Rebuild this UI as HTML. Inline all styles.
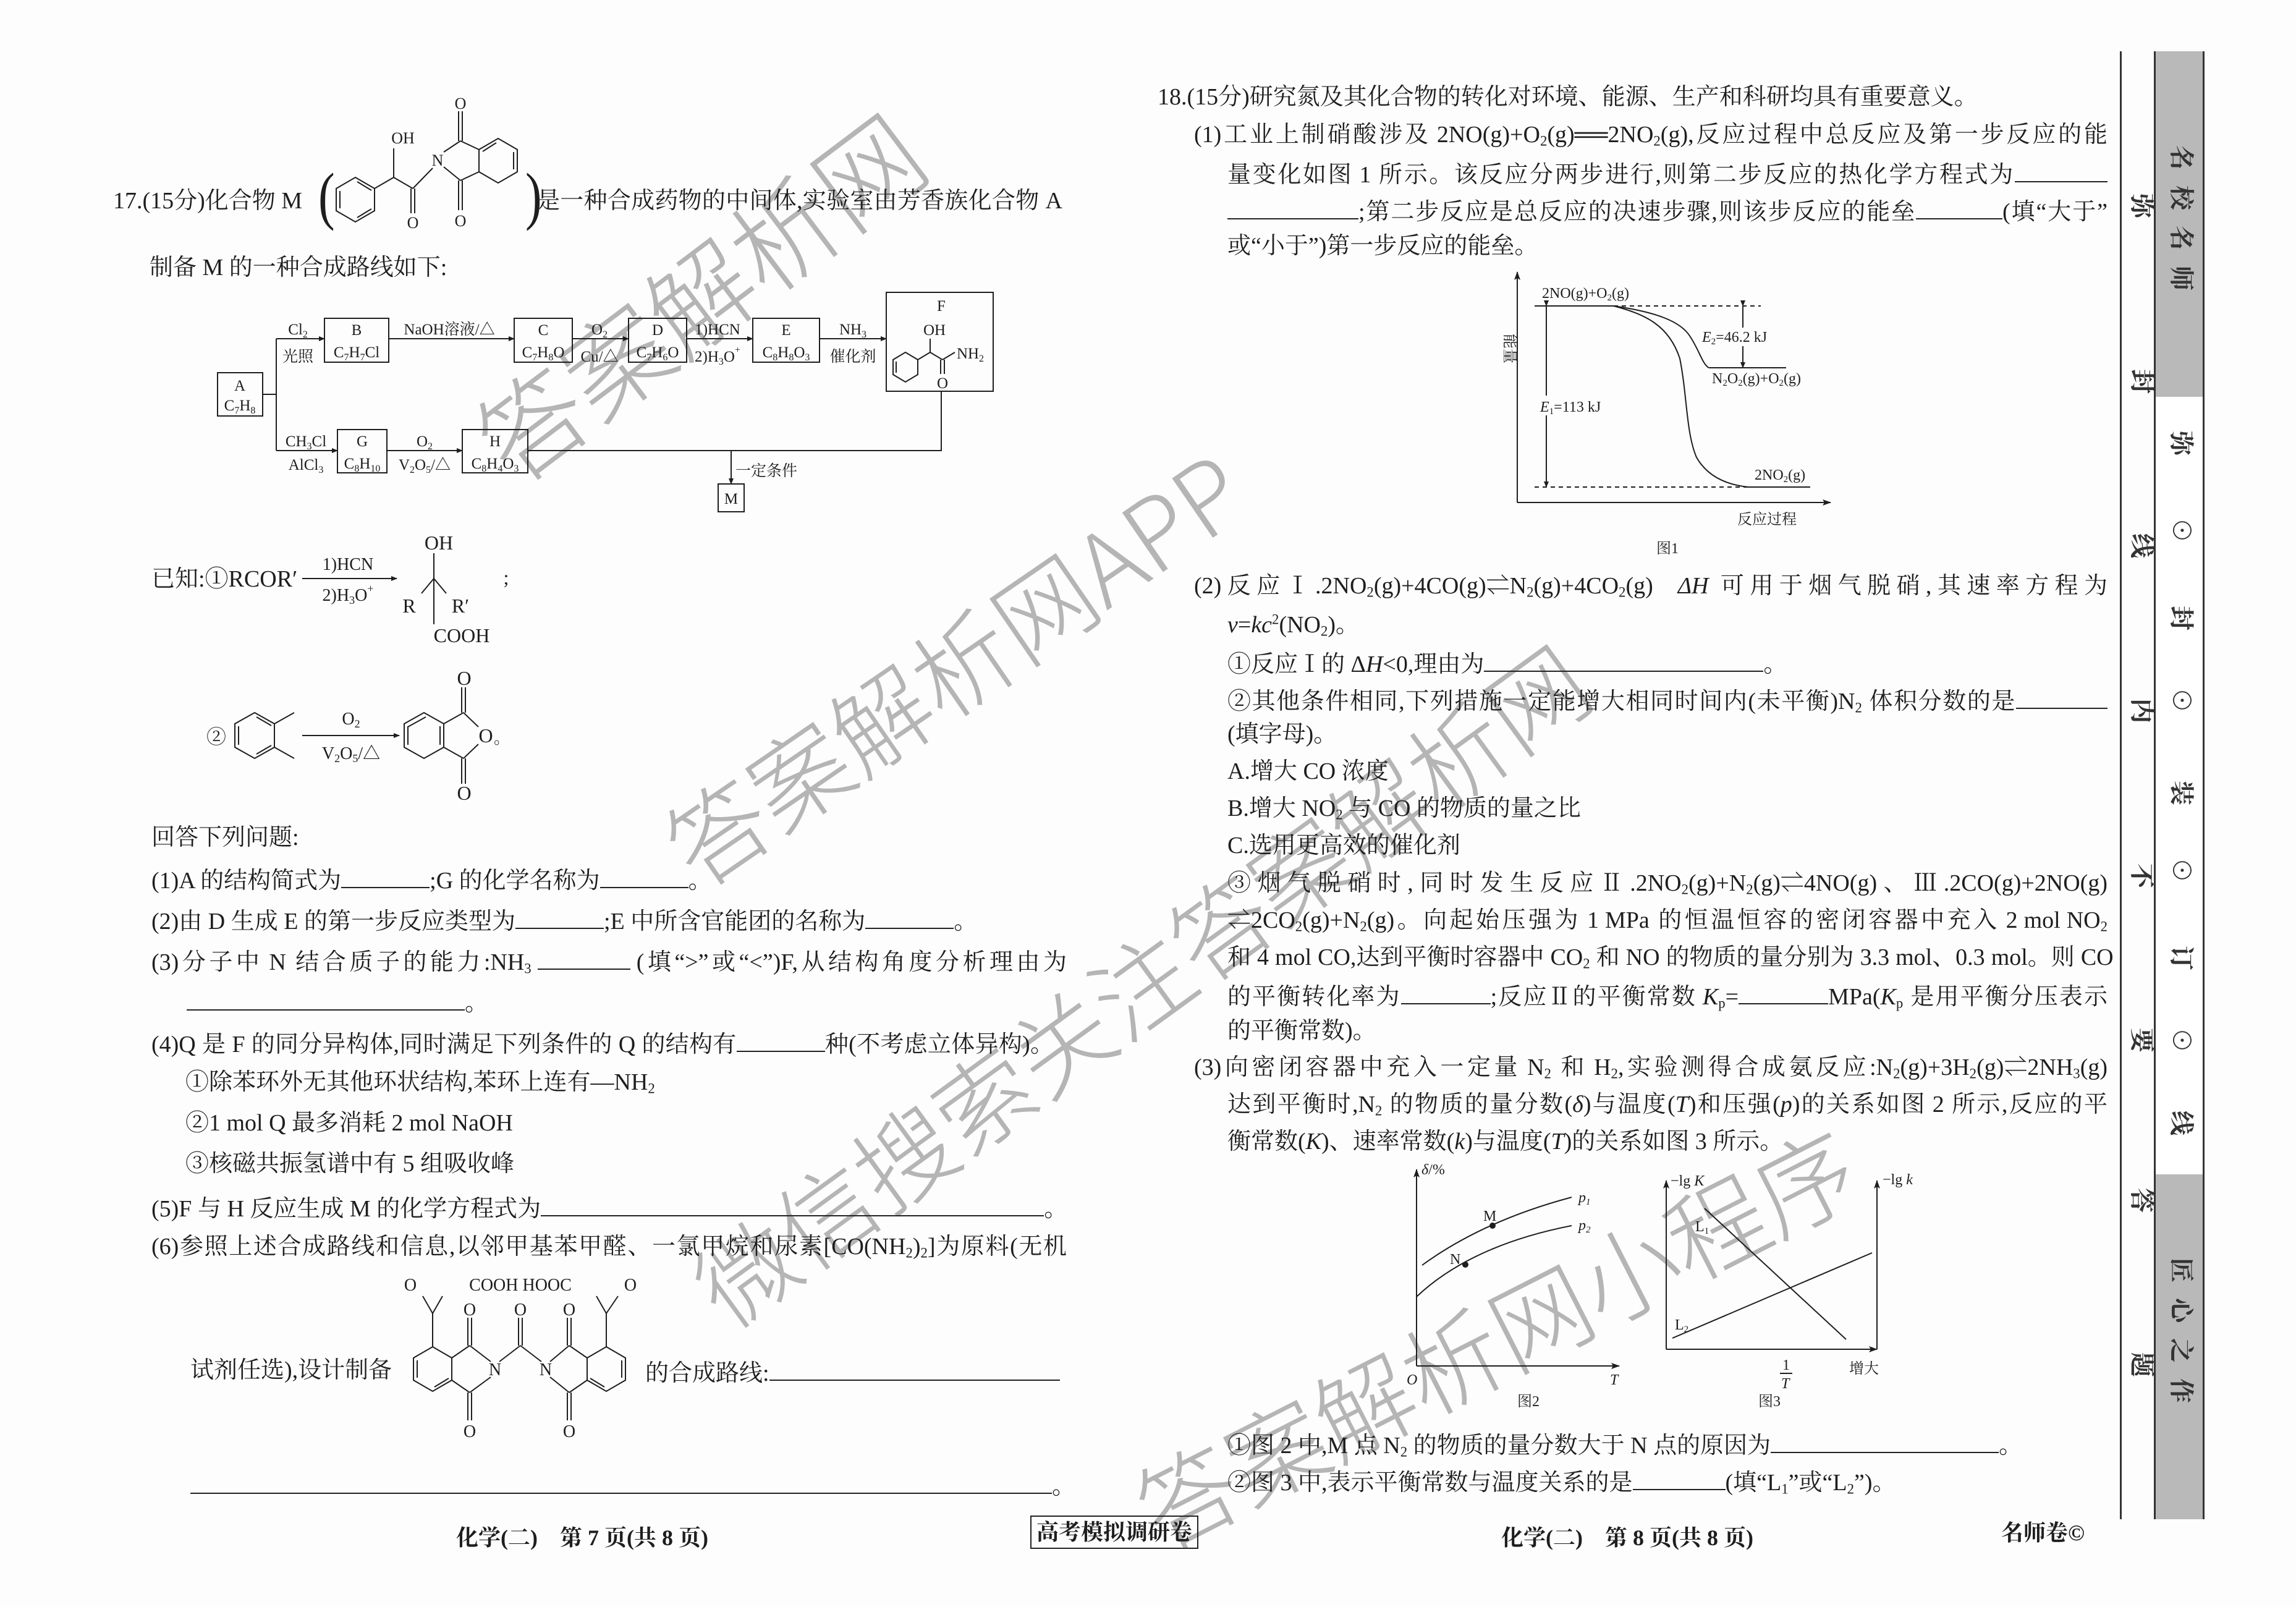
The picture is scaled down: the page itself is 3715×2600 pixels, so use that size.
<!DOCTYPE html>
<html><head><meta charset="utf-8">
<style>
html,body{margin:0;padding:0;background:#fff;}
#p{position:relative;width:3715px;height:2600px;overflow:hidden;background:#fdfdfd;color:#1e1e1e;font-family:"Liberation Serif","Noto Serif CJK SC",serif;}
.t{position:absolute;font-size:38px;line-height:38px;white-space:nowrap;}
.j{text-align:justify;text-align-last:justify;}
.s{display:inline-block;width:10px;}
sub{font-size:.6em;vertical-align:-.25em;line-height:0;}
sup{font-size:.6em;vertical-align:.6em;line-height:0;}
.u{display:inline-block;border-bottom:2px solid #222;height:34px;vertical-align:baseline;}
.wm{position:absolute;transform-origin:center;white-space:nowrap;color:rgba(110,110,110,.5);font-family:"Noto Sans CJK SC","WenQuanYi Zen Hei",sans-serif;font-weight:300;line-height:1;}
.side{position:absolute;writing-mode:vertical-rl;text-orientation:sideways;font-family:"Noto Serif CJK SC",serif;font-size:40px;font-weight:bold;color:#333;}
.ft{position:absolute;font-size:36px;font-weight:bold;white-space:nowrap;font-family:"Liberation Serif","Noto Serif CJK SC",serif;}
svg text{font-family:"Liberation Serif","Noto Serif CJK SC",serif;fill:#1e1e1e;}
</style></head><body><div id="p">

<!-- watermarks -->
<div class="wm" style="left:1128px;top:474px;font-size:170px;transform:translate(-50%,-50%) rotate(-37deg);">答案解析网</div>
<div class="wm" style="left:1541px;top:1076px;font-size:160px;transform:translate(-50%,-50%) rotate(-34.5deg);">答案解析网APP</div>
<div class="wm" style="left:1843px;top:1588px;font-size:158px;transform:translate(-50%,-50%) rotate(-36deg);">微信搜索关注答案解析网</div>
<div class="wm" style="left:2418px;top:2160px;font-size:160px;transform:translate(-50%,-50%) rotate(-27deg);">答案解析网小程序</div>

<!-- LEFT COLUMN -->
<div class="t" style="left:183px;top:306px;">17.(15分)化合物 M</div>
<div class="t j" style="left:868px;top:306px;width:851px;">是一种合成药物的中间体,实验室由芳香族化合物<span class="s"></span>A</div>
<div class="t" style="left:242px;top:414px;">制备 M 的一种合成路线如下:</div>
<div class="t" style="left:245px;top:918px;">已知:①RCOR′</div>
<div class="t" style="left:245px;top:1336px;">回答下列问题:</div>
<div class="t" style="left:245px;top:1401px;">(1)A 的结构简式为<span class="u" style="width:143px"></span>;G 的化学名称为<span class="u" style="width:143px"></span>。</div>
<div class="t" style="left:245px;top:1467px;">(2)由 D 生成 E 的第一步反应类型为<span class="u" style="width:143px"></span>;E 中所含官能团的名称为<span class="u" style="width:143px"></span>。</div>
<div class="t j" style="left:245px;top:1533px;width:1481px;">(3)分子中<span class="s"></span>N<span class="s"></span>结合质子的能力:NH<sub>3</sub><span class="s"></span><span class="u" style="width:150px"></span><span class="s"></span>(填“&gt;”或“&lt;”)F,从结构角度分析理由为</div>
<div class="t" style="left:302px;top:1599px;"><span class="u" style="width:450px"></span>。</div>
<div class="t j" style="left:245px;top:1666px;width:1460px;">(4)Q<span class="s"></span>是<span class="s"></span>F<span class="s"></span>的同分异构体,同时满足下列条件的<span class="s"></span>Q<span class="s"></span>的结构有<span class="u" style="width:143px"></span>种(不考虑立体异构)。</div>
<div class="t" style="left:300px;top:1732px;">①除苯环外无其他环状结构,苯环上连有—NH<sub>2</sub></div>
<div class="t" style="left:300px;top:1798px;">②1 mol Q 最多消耗 2 mol NaOH</div>
<div class="t" style="left:300px;top:1864px;">③核磁共振氢谱中有 5 组吸收峰</div>
<div class="t" style="left:245px;top:1932px;">(5)F 与 H 反应生成 M 的化学方程式为<span class="u" style="width:814px"></span>。</div>
<div class="t j" style="left:245px;top:1998px;width:1481px;">(6)参照上述合成路线和信息,以邻甲基苯甲醛、一氯甲烷和尿素[CO(NH<sub>2</sub>)<sub>2</sub>]为原料(无机</div>
<div class="t" style="left:308px;top:2198px;">试剂任选),设计制备</div>
<div class="t" style="left:1044px;top:2198px;">的合成路线:<span class="u" style="width:470px"></span></div>
<div class="t" style="left:308px;top:2381px;"><span class="u" style="width:1394px"></span>。</div>

<!-- RIGHT COLUMN -->
<div class="t" style="left:1873px;top:138px;">18.(15分)研究氮及其化合物的转化对环境、能源、生产和科研均具有重要意义。</div>
<div class="t j" style="left:1932px;top:199px;width:1478px;">(1)工业上制硝酸涉及<span class="s"></span>2NO(g)+O<sub>2</sub>(g)══2NO<sub>2</sub>(g),反应过程中总反应及第一步反应的能</div>
<div class="t j" style="left:1986px;top:259px;width:1424px;">量变化如图<span class="s"></span>1<span class="s"></span>所示。该反应分两步进行,则第二步反应的热化学方程式为<span class="u" style="width:150px"></span></div>
<div class="t j" style="left:1986px;top:319px;width:1424px;"><span class="u" style="width:212px"></span>;第二步反应是总反应的决速步骤,则该步反应的能垒<span class="u" style="width:140px"></span>(填“大于”</div>
<div class="t" style="left:1986px;top:379px;">或“小于”)第一步反应的能垒。</div>

<div class="t j" style="left:1932px;top:929px;width:1478px;">(2)反应Ⅰ.2NO<sub>2</sub>(g)+4CO(g)⇌N<sub>2</sub>(g)+4CO<sub>2</sub>(g)<span class="s" style="width:40px"></span><i>ΔH</i><span class="s"></span>可用于烟气脱硝,其速率方程为</div>
<div class="t" style="left:1986px;top:992px;"><i>v</i>=<i>kc</i><sup>2</sup>(NO<sub>2</sub>)。</div>
<div class="t" style="left:1986px;top:1051px;">①反应Ⅰ的 Δ<i>H</i>&lt;0,理由为<span class="u" style="width:452px"></span>。</div>
<div class="t j" style="left:1986px;top:1111px;width:1424px;">②其他条件相同,下列措施一定能增大相同时间内(未平衡)N<sub>2</sub><span class="s"></span>体积分数的是<span class="u" style="width:148px"></span></div>
<div class="t" style="left:1986px;top:1169px;">(填字母)。</div>
<div class="t" style="left:1986px;top:1229px;">A.增大 CO 浓度</div>
<div class="t" style="left:1986px;top:1289px;">B.增大 NO<sub>2</sub> 与 CO 的物质的量之比</div>
<div class="t" style="left:1986px;top:1349px;">C.选用更高效的催化剂</div>
<div class="t j" style="left:1986px;top:1410px;width:1424px;">③烟气脱硝时,同时发生反应Ⅱ.2NO<sub>2</sub>(g)+N<sub>2</sub>(g)⇌4NO(g)、Ⅲ.2CO(g)+2NO(g)</div>
<div class="t j" style="left:1986px;top:1470px;width:1424px;">⇌2CO<sub>2</sub>(g)+N<sub>2</sub>(g)。向起始压强为<span class="s"></span>1<span class="s"></span>MPa<span class="s"></span>的恒温恒容的密闭容器中充入<span class="s"></span>2<span class="s"></span>mol<span class="s"></span>NO<sub>2</sub></div>
<div class="t j" style="left:1986px;top:1530px;width:1424px;">和<span class="s"></span>4<span class="s"></span>mol<span class="s"></span>CO,达到平衡时容器中<span class="s"></span>CO<sub>2</sub><span class="s"></span>和<span class="s"></span>NO<span class="s"></span>的物质的量分别为<span class="s"></span>3.3<span class="s"></span>mol、0.3<span class="s"></span>mol。则<span class="s"></span>CO</div>
<div class="t j" style="left:1986px;top:1589px;width:1424px;">的平衡转化率为<span class="u" style="width:145px"></span>;反应Ⅱ的平衡常数<span class="s"></span><i>K</i><sub>p</sub>=<span class="u" style="width:145px"></span>MPa(<i>K</i><sub>p</sub><span class="s"></span>是用平衡分压表示</div>
<div class="t" style="left:1986px;top:1649px;">的平衡常数)。</div>
<div class="t j" style="left:1932px;top:1708px;width:1478px;">(3)向密闭容器中充入一定量<span class="s"></span>N<sub>2</sub><span class="s"></span>和<span class="s"></span>H<sub>2</sub>,实验测得合成氨反应:N<sub>2</sub>(g)+3H<sub>2</sub>(g)⇌2NH<sub>3</sub>(g)</div>
<div class="t j" style="left:1986px;top:1768px;width:1424px;">达到平衡时,N<sub>2</sub><span class="s"></span>的物质的量分数(<i>δ</i>)与温度(<i>T</i>)和压强(<i>p</i>)的关系如图<span class="s"></span>2<span class="s"></span>所示,反应的平</div>
<div class="t" style="left:1986px;top:1828px;">衡常数(<i>K</i>)、速率常数(<i>k</i>)与温度(<i>T</i>)的关系如图 3 所示。</div>
<div class="t" style="left:1986px;top:2315px;">①图 2 中,M 点 N<sub>2</sub> 的物质的量分数大于 N 点的原因为<span class="u" style="width:369px"></span>。</div>
<div class="t" style="left:1986px;top:2375px;">②图 3 中,表示平衡常数与温度关系的是<span class="u" style="width:150px"></span>(填“L<sub>1</sub>”或“L<sub>2</sub>”)。</div>

<!-- footer -->
<div class="ft" style="left:738px;top:2460px;">化学(二)　第 7 页(共 8 页)</div>
<div class="ft" style="left:1667px;top:2452px;border:2px solid #222;padding:6px 8px;line-height:38px;">高考模拟调研卷</div>
<div class="ft" style="left:2429px;top:2460px;">化学(二)　第 8 页(共 8 页)</div>
<div class="ft" style="left:3238px;top:2452px;">名师卷©</div>

<!-- sidebar -->
<div style="position:absolute;left:3430px;top:83px;width:3px;height:2375px;background:#333;"></div>
<div style="position:absolute;left:3485px;top:83px;width:76px;height:2375px;border-left:3px solid #333;border-right:3px solid #333;background:#fff;"></div>
<div style="position:absolute;left:3488px;top:83px;width:76px;height:559px;background:#b9b9b9;"></div>
<div style="position:absolute;left:3488px;top:1900px;width:76px;height:558px;background:#b9b9b9;"></div>
<div class="side" style="left:3440px;top:313px;">弥</div>
<div class="side" style="left:3440px;top:597px;">封</div>
<div class="side" style="left:3440px;top:863px;">线</div>
<div class="side" style="left:3440px;top:1130px;">内</div>
<div class="side" style="left:3440px;top:1397px;">不</div>
<div class="side" style="left:3440px;top:1663px;">要</div>
<div class="side" style="left:3440px;top:1922px;">答</div>
<div class="side" style="left:3440px;top:2188px;">题</div>
<div class="side" style="left:3504px;top:235px;letter-spacing:25px;">名校名师</div>
<div class="side" style="left:3504px;top:697px;">弥</div>
<div class="side" style="left:3504px;top:838px;">⊙</div>
<div class="side" style="left:3504px;top:980px;">封</div>
<div class="side" style="left:3504px;top:1113px;">⊙</div>
<div class="side" style="left:3504px;top:1263px;">装</div>
<div class="side" style="left:3504px;top:1388px;">⊙</div>
<div class="side" style="left:3504px;top:1530px;">订</div>
<div class="side" style="left:3504px;top:1663px;">⊙</div>
<div class="side" style="left:3504px;top:1797px;">线</div>
<div class="side" style="left:3504px;top:2035px;letter-spacing:25px;">匠心之作</div>

<!-- diagrams -->
<svg width="3715" height="2600" style="position:absolute;left:0;top:0;" xmlns="http://www.w3.org/2000/svg">
<defs>
<marker id="ar" markerWidth="10" markerHeight="8" refX="9" refY="4" orient="auto" markerUnits="userSpaceOnUse"><path d="M0,0 L10,4 L0,8 z" fill="#1e1e1e"/></marker>
<marker id="ar2" markerWidth="14" markerHeight="10" refX="13" refY="5" orient="auto" markerUnits="userSpaceOnUse"><path d="M0,0 L14,5 L0,10 L3,5 z" fill="#1e1e1e"/></marker>
</defs>
<g stroke="#1e1e1e" stroke-width="2" fill="none">
<polygon points="575,287 606,305 606,341 575,359 544,341 544,305"/>
<line x1="550" y1="309" x2="550" y2="337"/><line x1="578" y1="352" x2="601" y2="338"/><line x1="578" y1="294" x2="601" y2="308"/>
<line x1="606" y1="305" x2="637" y2="287"/><line x1="637" y1="287" x2="637" y2="240"/>
<line x1="637" y1="287" x2="668" y2="305"/><line x1="665" y1="305" x2="665" y2="345"/><line x1="671" y1="305" x2="671" y2="345"/>
<line x1="668" y1="305" x2="700" y2="272"/>
<line x1="718" y1="246" x2="745" y2="228"/><line x1="718" y1="270" x2="745" y2="292"/>
<line x1="742" y1="228" x2="742" y2="180"/><line x1="748" y1="228" x2="748" y2="180"/>
<line x1="742" y1="292" x2="742" y2="340"/><line x1="748" y1="292" x2="748" y2="340"/>
<polygon points="806,224 837,242 837,278 806,296 775,278 775,242"/>
<line x1="745" y1="228" x2="775" y2="242"/><line x1="745" y1="292" x2="775" y2="278"/>
<line x1="831" y1="246" x2="831" y2="274"/><line x1="781" y1="245" x2="803" y2="231"/>
<rect x="352" y="603" width="73" height="70"/>
<rect x="525" y="515" width="104" height="71"/>
<rect x="832" y="515" width="94" height="71"/>
<rect x="1017" y="515" width="94" height="71"/>
<rect x="1218" y="515" width="108" height="71"/>
<rect x="1434" y="473" width="173" height="160"/>
<rect x="546" y="695" width="80" height="70"/>
<rect x="748" y="695" width="106" height="70"/>
<rect x="1162" y="783" width="42" height="45"/>
<line x1="425" y1="638" x2="447" y2="638"/>
<line x1="447" y1="548" x2="447" y2="729"/>
<line x1="447" y1="548" x2="525" y2="548" marker-end="url(#ar)"/>
<line x1="629" y1="548" x2="832" y2="548" marker-end="url(#ar)"/>
<line x1="926" y1="548" x2="1017" y2="548" marker-end="url(#ar)"/>
<line x1="1111" y1="548" x2="1218" y2="548" marker-end="url(#ar)"/>
<line x1="1326" y1="548" x2="1434" y2="548" marker-end="url(#ar)"/>
<line x1="447" y1="729" x2="546" y2="729" marker-end="url(#ar)"/>
<line x1="626" y1="729" x2="748" y2="729" marker-end="url(#ar)"/>
<polyline points="854,729 1523,729 1523,633"/>
<line x1="1183" y1="729" x2="1183" y2="783" marker-end="url(#ar)"/>
<polygon points="1465,570 1485,582 1485,606 1465,618 1445,606 1445,582"/>
<line x1="1450" y1="585" x2="1450" y2="603"/>
<line x1="1485" y1="582" x2="1505" y2="570"/><line x1="1505" y1="570" x2="1505" y2="548"/>
<line x1="1505" y1="570" x2="1525" y2="582"/><line x1="1522" y1="582" x2="1522" y2="605"/><line x1="1528" y1="582" x2="1528" y2="605"/>
<line x1="1525" y1="582" x2="1545" y2="570"/>
<line x1="489" y1="936" x2="642" y2="936" marker-end="url(#ar)"/>
<line x1="702" y1="895" x2="702" y2="1010"/><line x1="702" y1="936" x2="682" y2="960"/><line x1="702" y1="936" x2="722" y2="960"/>
<polygon points="412,1153 444,1171 444,1209 412,1227 380,1209 380,1171"/>
<line x1="386" y1="1175" x2="386" y2="1205"/><line x1="415" y1="1160" x2="439" y2="1174"/><line x1="415" y1="1220" x2="439" y2="1206"/>
<line x1="444" y1="1171" x2="476" y2="1153"/><line x1="444" y1="1209" x2="476" y2="1227"/>
<line x1="489" y1="1190" x2="646" y2="1190" marker-end="url(#ar)"/>
<polygon points="686,1153 718,1171 718,1209 686,1227 654,1209 654,1171"/>
<line x1="660" y1="1175" x2="660" y2="1205"/><line x1="712" y1="1175" x2="712" y2="1205"/><line x1="689" y1="1160" x2="660" y2="1176"/>
<line x1="718" y1="1171" x2="750" y2="1153"/><line x1="718" y1="1209" x2="750" y2="1227"/>
<line x1="747" y1="1153" x2="747" y2="1112"/><line x1="753" y1="1153" x2="753" y2="1112"/>
<line x1="747" y1="1227" x2="747" y2="1268"/><line x1="753" y1="1227" x2="753" y2="1268"/>
<line x1="750" y1="1153" x2="774" y2="1176"/><line x1="750" y1="1227" x2="774" y2="1204"/>
<polygon points="700,2179 731,2197 731,2233 700,2251 669,2233 669,2197"/>
<line x1="675" y1="2201" x2="675" y2="2229"/><line x1="703" y1="2244" x2="726" y2="2230"/>
<line x1="700" y1="2179" x2="700" y2="2125"/><line x1="700" y1="2125" x2="684" y2="2097"/><line x1="700" y1="2125" x2="716" y2="2097"/>
<line x1="731" y1="2197" x2="760" y2="2177"/><line x1="731" y1="2233" x2="760" y2="2253"/>
<line x1="757" y1="2177" x2="757" y2="2132"/><line x1="763" y1="2177" x2="763" y2="2132"/>
<line x1="757" y1="2253" x2="757" y2="2298"/><line x1="763" y1="2253" x2="763" y2="2298"/>
<line x1="760" y1="2177" x2="794" y2="2203"/><line x1="760" y1="2253" x2="794" y2="2228"/>
<line x1="808" y1="2203" x2="842" y2="2177"/><line x1="842" y1="2177" x2="876" y2="2203"/>
<line x1="839" y1="2177" x2="839" y2="2132"/><line x1="845" y1="2177" x2="845" y2="2132"/>
<line x1="890" y1="2203" x2="921" y2="2177"/><line x1="890" y1="2228" x2="921" y2="2253"/>
<line x1="918" y1="2177" x2="918" y2="2132"/><line x1="924" y1="2177" x2="924" y2="2132"/>
<line x1="918" y1="2253" x2="918" y2="2298"/><line x1="924" y1="2253" x2="924" y2="2298"/>
<line x1="921" y1="2177" x2="950" y2="2197"/><line x1="921" y1="2253" x2="950" y2="2233"/>
<polygon points="981,2179 1012,2197 1012,2233 981,2251 950,2233 950,2197"/>
<line x1="1006" y1="2201" x2="1006" y2="2229"/><line x1="978" y1="2244" x2="955" y2="2230"/>
<line x1="981" y1="2179" x2="981" y2="2125"/><line x1="981" y1="2125" x2="965" y2="2097"/><line x1="981" y1="2125" x2="1000" y2="2097"/>
</g>
<text x="515" y="345" font-size="80" transform="translate(515,323) scale(1,1.3) translate(-515,-323)">(</text>
<text x="850" y="345" font-size="80" transform="translate(850,323) scale(1,1.3) translate(-850,-323)">)</text>
<g font-size="26" text-anchor="middle">
<text x="652" y="232">OH</text>
<text x="668" y="369">O</text>
<text x="708" y="268">N</text>
<text x="745" y="176">O</text>
<text x="745" y="366">O</text>
</g>
<g font-size="25" text-anchor="middle">
<text x="388" y="632">A</text><text x="388" y="664">C<tspan font-size="16" dy="5">7</tspan><tspan dy="-5">H</tspan><tspan font-size="16" dy="5">8</tspan></text>
<text x="577" y="542">B</text><text x="577" y="578">C<tspan font-size="16" dy="5">7</tspan><tspan dy="-5">H</tspan><tspan font-size="16" dy="5">7</tspan><tspan dy="-5">Cl</tspan></text>
<text x="879" y="542">C</text><text x="879" y="578">C<tspan font-size="16" dy="5">7</tspan><tspan dy="-5">H</tspan><tspan font-size="16" dy="5">8</tspan><tspan dy="-5">O</tspan></text>
<text x="1064" y="542">D</text><text x="1064" y="578">C<tspan font-size="16" dy="5">7</tspan><tspan dy="-5">H</tspan><tspan font-size="16" dy="5">6</tspan><tspan dy="-5">O</tspan></text>
<text x="1272" y="542">E</text><text x="1272" y="578">C<tspan font-size="16" dy="5">8</tspan><tspan dy="-5">H</tspan><tspan font-size="16" dy="5">8</tspan><tspan dy="-5">O</tspan><tspan font-size="16" dy="5">3</tspan></text>
<text x="1523" y="503">F</text>
<text x="1512" y="542">OH</text>
<text x="1570" y="580">NH<tspan font-size="16" dy="5">2</tspan></text>
<text x="1525" y="628">O</text>
<text x="586" y="722">G</text><text x="586" y="758">C<tspan font-size="16" dy="5">8</tspan><tspan dy="-5">H</tspan><tspan font-size="16" dy="5">10</tspan></text>
<text x="801" y="722">H</text><text x="801" y="758">C<tspan font-size="16" dy="5">8</tspan><tspan dy="-5">H</tspan><tspan font-size="16" dy="5">4</tspan><tspan dy="-5">O</tspan><tspan font-size="16" dy="5">3</tspan></text>
<text x="1183" y="815">M</text>
<text x="482" y="541">Cl<tspan font-size="16" dy="5">2</tspan></text>
<text x="482" y="585">光照</text>
<text x="727" y="541">NaOH溶液/△</text>
<text x="970" y="541">O<tspan font-size="16" dy="5">2</tspan></text>
<text x="970" y="585">Cu/△</text>
<text x="1161" y="541">1)HCN</text>
<text x="1161" y="585">2)H<tspan font-size="16" dy="5">3</tspan><tspan dy="-5">O</tspan><tspan font-size="16" dy="-14">+</tspan></text>
<text x="1380" y="541">NH<tspan font-size="16" dy="5">3</tspan></text>
<text x="1380" y="585">催化剂</text>
<text x="495" y="722">CH<tspan font-size="16" dy="5">3</tspan><tspan dy="-5">Cl</tspan></text>
<text x="495" y="760">AlCl<tspan font-size="16" dy="5">3</tspan></text>
<text x="687" y="722">O<tspan font-size="16" dy="5">2</tspan></text>
<text x="687" y="760">V<tspan font-size="16" dy="5">2</tspan><tspan dy="-5">O</tspan><tspan font-size="16" dy="5">5</tspan><tspan dy="-5">/△</tspan></text>
<text x="1240" y="770">一定条件</text>
</g>
<g font-size="32" text-anchor="middle">
<text x="563" y="922" font-size="28">1)HCN</text>
<text x="563" y="972" font-size="28">2)H<tspan font-size="18" dy="5">3</tspan><tspan dy="-5">O</tspan><tspan font-size="18" dy="-14">+</tspan></text>
<text x="710" y="889">OH</text>
<text x="662" y="991">R</text>
<text x="745" y="991">R′</text>
<text x="747" y="1039">COOH</text>
<text x="819" y="945">;</text>
<text x="350" y="1203">②</text>
<text x="568" y="1172" font-size="28">O<tspan font-size="18" dy="5">2</tspan></text>
<text x="568" y="1228" font-size="28">V<tspan font-size="18" dy="5">2</tspan><tspan dy="-5">O</tspan><tspan font-size="18" dy="5">5</tspan><tspan dy="-5">/△</tspan></text>
<text x="751" y="1108">O</text>
<text x="786" y="1201">O</text>
<text x="751" y="1294">O</text>
<text x="812" y="1203" font-size="26">。</text>
</g>
<g font-size="28" text-anchor="middle">
<text x="664" y="2088">O</text>
<text x="842" y="2088">COOH HOOC</text>
<text x="1020" y="2088">O</text>
<text x="760" y="2128">O</text><text x="842" y="2128">O</text><text x="921" y="2128">O</text>
<text x="801" y="2225">N</text><text x="883" y="2225">N</text>
<text x="760" y="2325">O</text><text x="921" y="2325">O</text>
</g>

<!-- Fig1 -->
<g stroke="#1e1e1e" stroke-width="2" fill="none">
<line x1="2455" y1="813" x2="2455" y2="440" marker-end="url(#ar2)"/>
<line x1="2455" y1="813" x2="2962" y2="813" marker-end="url(#ar2)"/>
<line x1="2483" y1="495" x2="2611" y2="495"/>
<line x1="2611" y1="495" x2="2849" y2="495" stroke-dasharray="7,6"/>
<line x1="2483" y1="788" x2="2829" y2="788" stroke-dasharray="7,6"/>
<line x1="2829" y1="788" x2="2929" y2="788"/>
<line x1="2765" y1="595" x2="2890" y2="595"/>
<line x1="2502" y1="495" x2="2502" y2="640" marker-start="url(#ar)"/>
<line x1="2502" y1="672" x2="2502" y2="788" marker-end="url(#ar)"/>
<line x1="2820" y1="495" x2="2820" y2="530" marker-start="url(#ar)"/>
<line x1="2820" y1="560" x2="2820" y2="595" marker-end="url(#ar)"/>
<path d="M2611,495 C2680,505 2720,520 2735,545 C2750,568 2755,590 2765,595"/>
<path d="M2611,495 C2660,508 2700,525 2718,580 C2730,640 2728,700 2745,740 C2765,775 2800,785 2829,788"/>
</g>
<g font-size="24">
<text x="2495" y="482">2NO(g)+O<tspan font-size="15" dy="4">2</tspan><tspan dy="-4">(g)</tspan></text>
<text x="2754" y="553"><tspan font-style="italic">E</tspan><tspan font-size="15" dy="4">2</tspan><tspan dy="-4">=46.2 kJ</tspan></text>
<text x="2770" y="620">N<tspan font-size="15" dy="4">2</tspan><tspan dy="-4">O</tspan><tspan font-size="15" dy="4">2</tspan><tspan dy="-4">(g)+O</tspan><tspan font-size="15" dy="4">2</tspan><tspan dy="-4">(g)</tspan></text>
<text x="2492" y="666"><tspan font-style="italic">E</tspan><tspan font-size="15" dy="4">1</tspan><tspan dy="-4">=113 kJ</tspan></text>
<text x="2839" y="776">2NO<tspan font-size="15" dy="4">2</tspan><tspan dy="-4">(g)</tspan></text>
<text x="2811" y="848">反应过程</text>
<text x="2680" y="895">图1</text>
<text x="2435" y="540" transform="rotate(90 2435 540)">能量</text>
</g>

<!-- Fig2 / Fig3 -->
<g stroke="#1e1e1e" stroke-width="2" fill="none">
<line x1="2292" y1="2210" x2="2292" y2="1892" marker-end="url(#ar2)"/>
<line x1="2292" y1="2210" x2="2620" y2="2210" marker-end="url(#ar2)"/>
<path d="M2301,2047 Q2400,1975 2543,1937"/>
<path d="M2292,2098 Q2380,2015 2543,1983"/>
<line x1="2696" y1="2183" x2="2696" y2="1910" marker-end="url(#ar2)"/>
<line x1="2696" y1="2183" x2="3037" y2="2183" marker-end="url(#ar2)"/>
<line x1="3037" y1="2183" x2="3037" y2="1910" marker-end="url(#ar2)"/>
<line x1="2758" y1="1955" x2="2987" y2="2167"/>
<line x1="2706" y1="2165" x2="3029" y2="2027"/>
<line x1="2880" y1="2222" x2="2900" y2="2222"/>
</g>
<circle cx="2415" cy="1983" r="5" fill="#1e1e1e"/>
<circle cx="2371" cy="2046" r="5" fill="#1e1e1e"/>
<g font-size="24">
<text x="2300" y="1900"><tspan font-style="italic">δ</tspan>/%</text>
<text x="2400" y="1975">M</text>
<text x="2346" y="2045">N</text>
<text x="2554" y="1945" font-style="italic">p<tspan font-size="15" dy="4">1</tspan></text>
<text x="2554" y="1990" font-style="italic">p<tspan font-size="15" dy="4">2</tspan></text>
<text x="2276" y="2240" font-style="italic">O</text>
<text x="2605" y="2240" font-style="italic">T</text>
<text x="2455" y="2275">图2</text>
<text x="2703" y="1918">−lg <tspan font-style="italic">K</tspan></text>
<text x="3046" y="1916">−lg <tspan font-style="italic">k</tspan></text>
<text x="2743" y="1992">L<tspan font-size="15" dy="4">1</tspan></text>
<text x="2710" y="2151">L<tspan font-size="15" dy="4">2</tspan></text>
<text x="2884" y="2216">1</text>
<text x="2882" y="2246" font-style="italic">T</text>
<text x="2992" y="2222">增大</text>
<text x="2845" y="2275">图3</text>
</g>
</svg>
</div></body></html>
